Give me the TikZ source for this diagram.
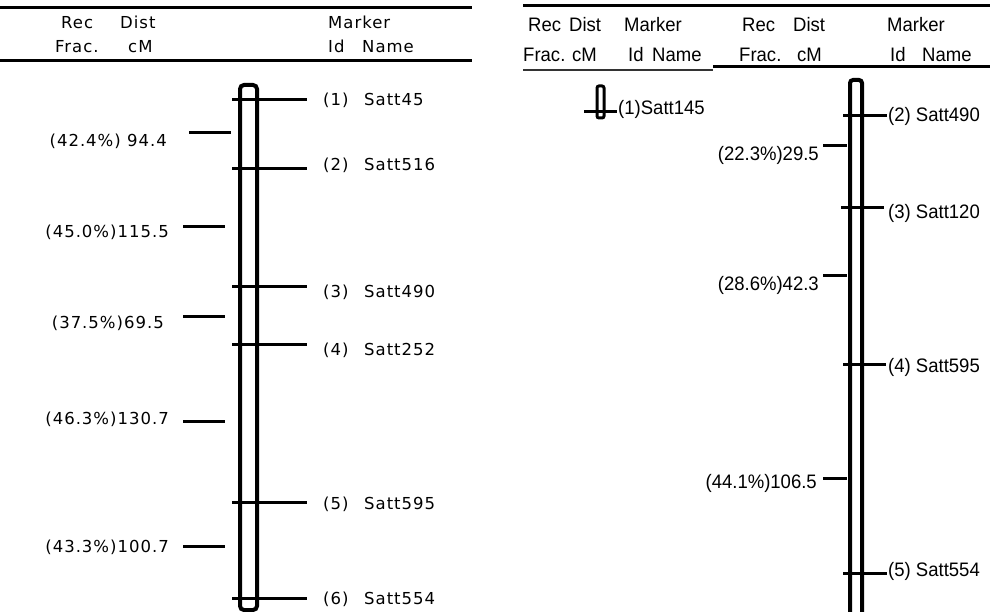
\documentclass[tikz,border=0pt]{standalone}
\usepackage{fontspec}
\setmainfont{Liberation Sans}
\newfontfamily\widef[LetterSpace=6]{DejaVu Sans}
\newfontfamily\narrf[FakeStretch=0.95]{Liberation Sans}
\tikzset{
  lt/.style={font=\widef\fontsize{16.5}{19}\selectfont, inner sep=0pt},
  rt/.style={font=\narrf\fontsize{19.5}{22}\selectfont, inner sep=0pt},
  rule/.style={line width=3pt},
  thinrule/.style={line width=2pt, black!80},
  tickline/.style={line width=3pt},
  chrom/.style={line width=4pt, rounded corners=4pt},
  smallchrom/.style={line width=3pt, rounded corners=2pt},
}
\begin{document}
\begin{tikzpicture}[x=1pt,y=-1pt]
\useasboundingbox (0,0) rectangle (990,612);
% ---------------- left panel ----------------
\coordinate (lr1a) at (0,8);   \coordinate (lr1b) at (472,8);
\coordinate (lr2a) at (0,61);  \coordinate (lr2b) at (472,61);
\draw[rule] (lr1a) -- (lr1b);
\draw[rule] (lr2a) -- (lr2b);
\node[lt, anchor=base west] (lh1) at (61,29) {Rec};
\node[lt, anchor=base west] (lh2) at (120,29) {Dist};
\node[lt, anchor=base west] (lh3) at (55,53) {Frac.};
\node[lt, anchor=base west] (lh4) at (128,53) {cM};
\node[lt, anchor=base west] (lh5) at (328,29) {Marker};
\node[lt, anchor=base west] (lh6) at (328,53) {Id};
\node[lt, anchor=base west] (lh7) at (362,53) {Name};
% chromosome bar
\draw[chrom] (240,85) rectangle (257,610);
% markers
\foreach \n/\y/\b/\t in {1/100/106/Satt45,2/169/171/Satt516,3/286/297/Satt490,4/344/355/Satt252,5/502/509/Satt595,6/598/604/Satt554}{
  \coordinate (lm\n a) at (232,\y);
  \coordinate (lm\n b) at (307,\y);
  \draw[tickline] (lm\n a) -- (lm\n b);
  \node[lt, anchor=base west] (lmi\n) at (323,\b) {(\n)};
  \node[lt, anchor=base west] (lmn\n) at (364,\b) {\t};
}
% distances
\foreach \n/\xa/\xb/\y/\xl/\b/\t in {1/189/231/133/167/147/{(42.4\%) 94.4},2/183/225/227/169/238/{(45.0\%)115.5},3/183/225/316/164/328/{(37.5\%)69.5},4/183/225/421/169/424/{(46.3\%)130.7},5/183/225/546/169/552/{(43.3\%)100.7}}{
  \coordinate (ld\n a) at (\xa,\y);
  \coordinate (ld\n b) at (\xb,\y);
  \draw[tickline] (ld\n a) -- (ld\n b);
  \node[lt, anchor=base east] (ldl\n) at (\xl,\b) {\t};
}
% ---------------- right panel ----------------
\coordinate (rr1a) at (523,6);   \coordinate (rr1b) at (990,6);
\coordinate (rr2a) at (523,70);  \coordinate (rr2b) at (713,70);
\coordinate (rr3a) at (713,67);  \coordinate (rr3b) at (990,67);
\draw[rule] (rr1a) -- (rr1b);
\draw[thinrule] (rr2a) -- (rr2b);
\draw[rule] (rr3a) -- (rr3b);
\node[rt, anchor=base west] (rh1) at (528,32) {Rec};
\node[rt, anchor=base west] (rh2) at (569,32) {Dist};
\node[rt, anchor=base west] (rh3) at (624,32) {Marker};
\node[rt, anchor=base west] (rh4) at (523,62) {Frac.};
\node[rt, anchor=base west] (rh5) at (572,62) {cM};
\node[rt, anchor=base west] (rh6) at (628,62) {Id};
\node[rt, anchor=base west] (rh7) at (652,62) {Name};
\node[rt, anchor=base west] (rh8) at (742,32) {Rec};
\node[rt, anchor=base west] (rh9) at (793,32) {Dist};
\node[rt, anchor=base west] (rh10) at (887,32) {Marker};
\node[rt, anchor=base west] (rh11) at (739,62) {Frac.};
\node[rt, anchor=base west] (rh12) at (797,62) {cM};
\node[rt, anchor=base west] (rh13) at (890,62) {Id};
\node[rt, anchor=base west] (rh14) at (922,62) {Name};
% small chromosome
\draw[smallchrom] (597,86) rectangle (604,118);
\coordinate (sm1a) at (584,112); \coordinate (sm1b) at (617,112);
\draw[tickline] (sm1a) -- (sm1b);
\node[rt, anchor=west] (sml1) at (618,109) {(1)Satt145};
% large chromosome
\draw[chrom, rounded corners=3pt] (850,615) -- (850,80) -- (862,80) -- (862,615);
\foreach \n/\xa/\xb/\y/\c/\t in {2/843/887/116/116/{(2) Satt490},3/841/884/208/213/{(3) Satt120},4/843/886/364/367/{(4) Satt595},5/843/887/573/571/{(5) Satt554}}{
  \coordinate (rm\n a) at (\xa,\y);
  \coordinate (rm\n b) at (\xb,\y);
  \draw[tickline] (rm\n a) -- (rm\n b);
  \node[rt, anchor=west] (rml\n) at (888,\c) {\t};
}
\foreach \n/\y/\xl/\c/\t in {1/146/819/155/{(22.3\%)29.5},2/276/819/285/{(28.6\%)42.3},3/478/817/483/{(44.1\%)106.5}}{
  \coordinate (rd\n a) at (823,\y);
  \coordinate (rd\n b) at (847,\y);
  \draw[tickline] (rd\n a) -- (rd\n b);
  \node[rt, anchor=east] (rdl\n) at (\xl,\c) {\t};
}
\end{tikzpicture}
\end{document}
